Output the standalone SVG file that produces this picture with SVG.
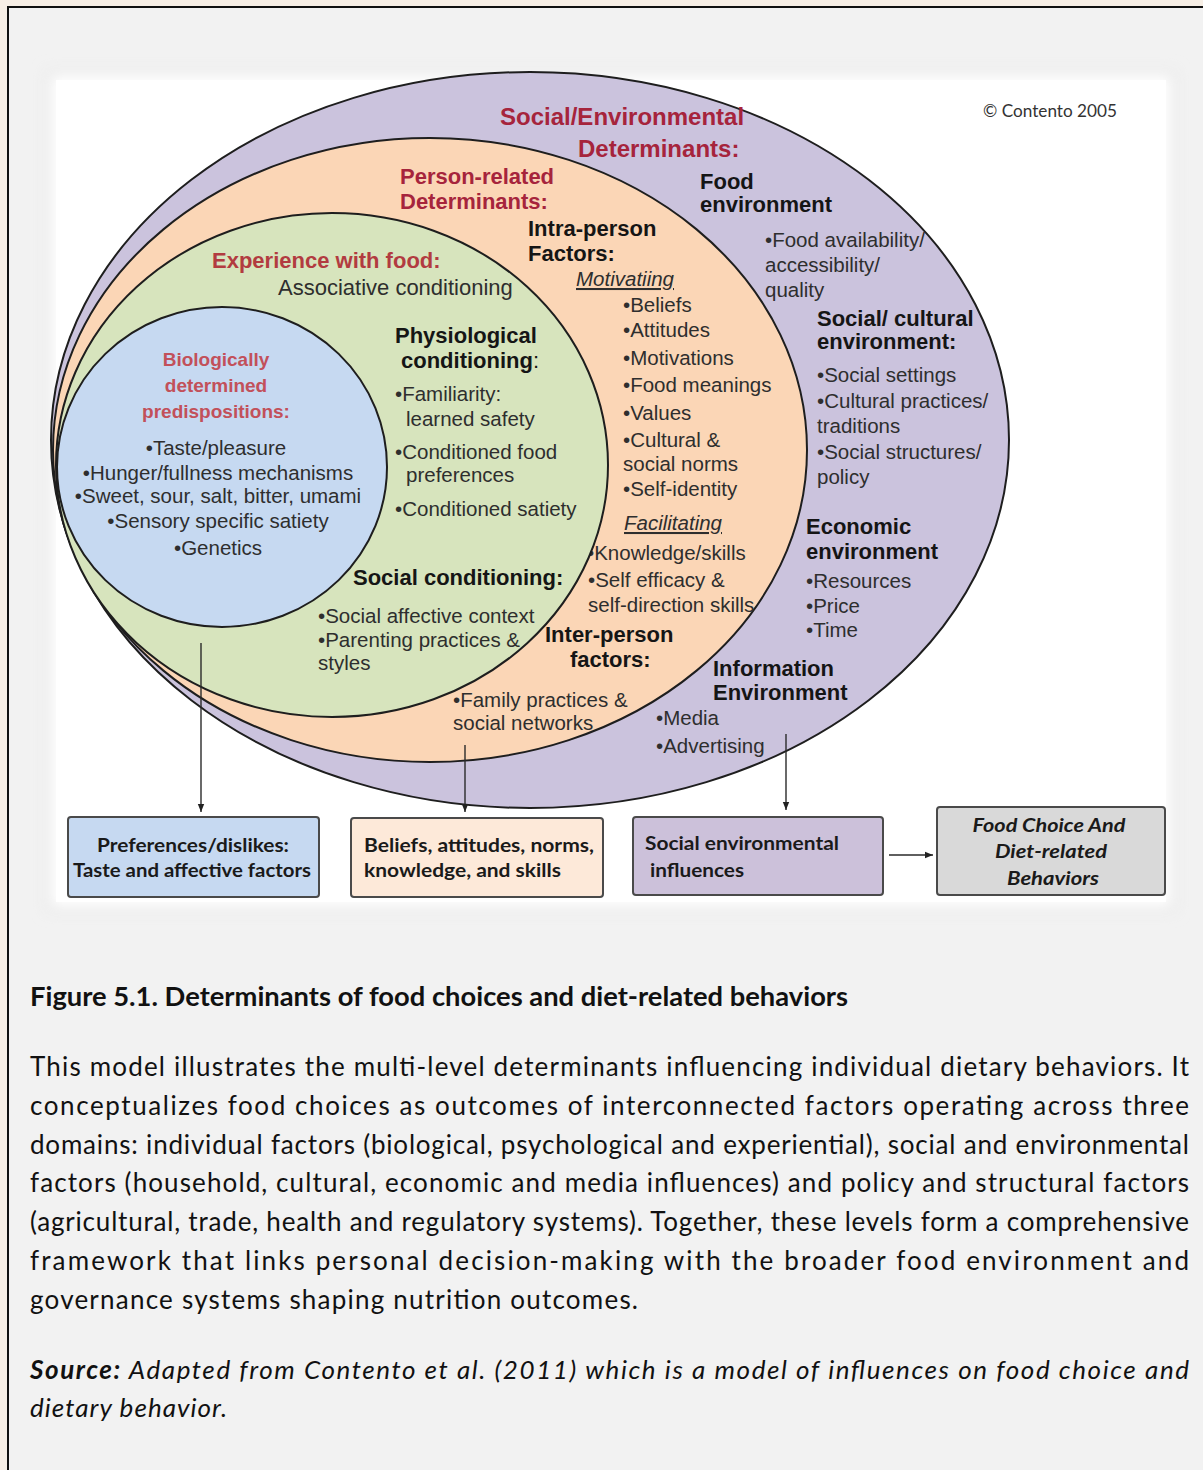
<svg xmlns="http://www.w3.org/2000/svg" width="1203" height="1470" viewBox="0 0 1203 1470">
<defs>
<style>
.h{font-family:"Liberation Sans",Arial,sans-serif;font-weight:bold;font-size:22px;fill:#151515}
.r{font-family:"Liberation Sans",Arial,sans-serif;font-weight:bold;font-size:22px;fill:#a6243c}
.t{font-family:"Liberation Sans",Arial,sans-serif;font-size:20.5px;fill:#2e2e2e}
.u{font-style:italic;text-decoration:underline}
.c{text-anchor:middle}
.bio{font-size:19px;fill:#c2505a}
.big{font-size:24px}
.bx{font-family:Lato,"Open Sans",sans-serif;font-weight:bold;font-size:18.5px;fill:#1a1a1a}
.cap{font-family:Lato,"Open Sans",sans-serif;font-size:26px;fill:#111}
.ell{stroke:#1e1e1e;stroke-width:2}
.box{stroke:#4a4a4a;stroke-width:2}
.con{stroke:#2a2a2a;stroke-width:1.4;fill:none}
</style>
<marker id="ah" viewBox="0 0 10 10" refX="10" refY="5" markerWidth="8" markerHeight="8" markerUnits="userSpaceOnUse" orient="auto">
<path d="M0,1 L10,5 L0,9 z" fill="#222"/>
</marker>
<filter id="feather" x="-5%" y="-5%" width="110%" height="110%">
<feGaussianBlur stdDeviation="7"/>
</filter>
</defs>

<rect x="0" y="0" width="1203" height="1470" fill="#f7efe6"/>
<rect x="8" y="7" width="1205" height="1475" fill="#f2f2f2" stroke="#111" stroke-width="2"/>
<rect x="46" y="70" width="1130" height="842" fill="#e6e6e6" filter="url(#feather)"/>
<rect x="50" y="74" width="1122" height="834" fill="#ffffff" filter="url(#feather)"/>
<rect x="56" y="80" width="1110" height="822" fill="#ffffff"/>

<text x="983" y="117" font-family="Lato,'Open Sans',sans-serif" font-size="16.5" fill="#333" textLength="134" lengthAdjust="spacingAndGlyphs">© Contento 2005</text>

<g id="social-environmental">
<ellipse class="ell" cx="530" cy="440" rx="479" ry="368" fill="#cbc3dd"/>
<text class="r big" x="500" y="125">Social/Environmental</text>
<text class="r big" x="578" y="157">Determinants:</text>
<text class="h" x="700" y="189">Food</text>
<text class="h" x="700" y="212">environment</text>
<text class="t" x="765" y="247">•Food availability/</text>
<text class="t" x="765" y="272">accessibility/</text>
<text class="t" x="765" y="297">quality</text>
<text class="h" x="817" y="326">Social/ cultural</text>
<text class="h" x="817" y="349">environment:</text>
<text class="t" x="817" y="382">•Social settings</text>
<text class="t" x="817" y="408">•Cultural practices/</text>
<text class="t" x="817" y="433">traditions</text>
<text class="t" x="817" y="459">•Social structures/</text>
<text class="t" x="817" y="484">policy</text>
<text class="h" x="806" y="534">Economic</text>
<text class="h" x="806" y="559">environment</text>
<text class="t" x="806" y="588">•Resources</text>
<text class="t" x="806" y="613">•Price</text>
<text class="t" x="806" y="637">•Time</text>
<text class="h" x="713" y="676">Information</text>
<text class="h" x="713" y="700">Environment</text>
<text class="t" x="656" y="725">•Media</text>
<text class="t" x="656" y="753">•Advertising</text>
</g>

<g id="person-related">
<ellipse class="ell" cx="430" cy="450" rx="377" ry="312" fill="#fbd6b6"/>
<text class="r" x="400" y="184">Person-related</text>
<text class="r" x="400" y="209">Determinants:</text>
<text class="h" x="528" y="236">Intra-person</text>
<text class="h" x="528" y="261">Factors:</text>
<text class="t u" x="576" y="286">Motivatiing</text>
<text class="t" x="623" y="312">•Beliefs</text>
<text class="t" x="623" y="337">•Attitudes</text>
<text class="t" x="623" y="365">•Motivations</text>
<text class="t" x="623" y="392">•Food meanings</text>
<text class="t" x="623" y="420">•Values</text>
<text class="t" x="623" y="447">•Cultural &amp;</text>
<text class="t" x="623" y="471">social norms</text>
<text class="t" x="623" y="496">•Self-identity</text>
<text class="t u" x="624" y="530">Facilitating</text>
<text class="t" x="587" y="560">•Knowledge/skills</text>
<text class="t" x="588" y="587">•Self efficacy &amp;</text>
<text class="t" x="588" y="612">self-direction skills</text>
<text class="h" x="545" y="642">Inter-person</text>
<text class="h" x="570" y="667">factors:</text>
<text class="t" x="453" y="707">•Family practices &amp;</text>
<text class="t" x="453" y="730">social networks</text>
</g>

<g id="experience-with-food">
<ellipse class="ell" cx="332" cy="465" rx="276" ry="252" fill="#d7e4bd"/>
<text class="r" x="212" y="268" style="fill:#b23b40">Experience with food:</text>
<text class="t" x="278" y="295" style="font-size:22px">Associative conditioning</text>
<text class="h" x="395" y="343">Physiological</text>
<text class="h" x="401" y="368">conditioning<tspan font-weight="normal">:</tspan></text>
<text class="t" x="395" y="401">•Familiarity:</text>
<text class="t" x="406" y="426">learned safety</text>
<text class="t" x="395" y="459">•Conditioned food</text>
<text class="t" x="406" y="482">preferences</text>
<text class="t" x="395" y="516">•Conditioned satiety</text>
<text class="h" x="353" y="585">Social conditioning:</text>
<text class="t" x="318" y="623">•Social affective context</text>
<text class="t" x="318" y="647">•Parenting practices &amp;</text>
<text class="t" x="318" y="670">styles</text>
</g>

<g id="biological">
<ellipse class="ell" cx="222" cy="467" rx="165" ry="160" fill="#c6d9f1"/>
<text class="r bio c" x="216" y="366">Biologically</text>
<text class="r bio c" x="216" y="392">determined</text>
<text class="r bio c" x="216" y="418">predispositions:</text>
<text class="t c" x="216" y="455">•Taste/pleasure</text>
<text class="t c" x="218" y="480">•Hunger/fullness mechanisms</text>
<text class="t c" x="218" y="503">•Sweet, sour, salt, bitter, umami</text>
<text class="t c" x="218" y="528">•Sensory specific satiety</text>
<text class="t c" x="218" y="555">•Genetics</text>
</g>

<g id="box-preferences">
<rect class="box" x="68" y="817" width="251" height="80" rx="3" fill="#c6d9f1"/>
<text class="bx c" x="193" y="852" textLength="192" lengthAdjust="spacingAndGlyphs">Preferences/dislikes:</text>
<text class="bx c" x="192" y="877" textLength="238" lengthAdjust="spacingAndGlyphs">Taste and affective factors</text>
</g>

<g id="box-beliefs">
<rect class="box" x="351" y="818" width="252" height="79" rx="3" fill="#fde9d9"/>
<text class="bx" x="364" y="852" textLength="230" lengthAdjust="spacingAndGlyphs">Beliefs, attitudes, norms,</text>
<text class="bx" x="364" y="877" textLength="197" lengthAdjust="spacingAndGlyphs">knowledge, and skills</text>
</g>

<g id="box-social-env">
<rect class="box" x="633" y="817" width="250" height="78" rx="3" fill="#ccc1da"/>
<text class="bx" x="645" y="850" textLength="194" lengthAdjust="spacingAndGlyphs">Social environmental</text>
<text class="bx" x="650" y="877" textLength="94" lengthAdjust="spacingAndGlyphs">influences</text>
</g>

<g id="box-food-choice">
<rect class="box" x="937" y="807" width="228" height="88" rx="3" fill="#d9d9d9"/>
<text class="bx c" x="1049" y="832" font-style="italic" textLength="153" lengthAdjust="spacingAndGlyphs">Food Choice And</text>
<text class="bx c" x="1051" y="858" font-style="italic" textLength="112" lengthAdjust="spacingAndGlyphs">Diet-related</text>
<text class="bx c" x="1053" y="885" font-style="italic" textLength="92" lengthAdjust="spacingAndGlyphs">Behaviors</text>
</g>

<g id="connectors">
<line class="con" x1="201" y1="643" x2="201" y2="812" marker-end="url(#ah)"/>
<line class="con" x1="465" y1="745" x2="465" y2="812" marker-end="url(#ah)"/>
<line class="con" x1="786" y1="734" x2="786" y2="810" marker-end="url(#ah)"/>
<line class="con" x1="889" y1="855" x2="933" y2="855" marker-end="url(#ah)"/>
</g>

<g id="caption">
<text class="cap" x="30" y="1006" font-weight="bold" textLength="818" lengthAdjust="spacingAndGlyphs">Figure 5.1. Determinants of food choices and diet-related behaviors</text>
<text class="cap" x="30" y="1076" textLength="1159" lengthAdjust="spacing">This model illustrates the multi-level determinants influencing individual dietary behaviors. It</text>
<text class="cap" x="30" y="1115" textLength="1159" lengthAdjust="spacing">conceptualizes food choices as outcomes of interconnected factors operating across three</text>
<text class="cap" x="30" y="1154" textLength="1159" lengthAdjust="spacing">domains: individual factors (biological, psychological and experiential), social and environmental</text>
<text class="cap" x="30" y="1192" textLength="1159" lengthAdjust="spacing">factors (household, cultural, economic and media influences) and policy and structural factors</text>
<text class="cap" x="30" y="1231" textLength="1159" lengthAdjust="spacing">(agricultural, trade, health and regulatory systems). Together, these levels form a comprehensive</text>
<text class="cap" x="30" y="1270" textLength="1159" lengthAdjust="spacing">framework that links personal decision-making with the broader food environment and</text>
<text class="cap" x="30" y="1309" textLength="608" lengthAdjust="spacing">governance systems shaping nutrition outcomes.</text>
<text class="cap" x="30" y="1379" font-style="italic" textLength="1159" lengthAdjust="spacing"><tspan font-weight="bold">Source:</tspan> Adapted from Contento et al. (2011) which is a model of influences on food choice and</text>
<text class="cap" x="30" y="1417" font-style="italic" textLength="197" lengthAdjust="spacing">dietary behavior.</text>
</g>
</svg>
